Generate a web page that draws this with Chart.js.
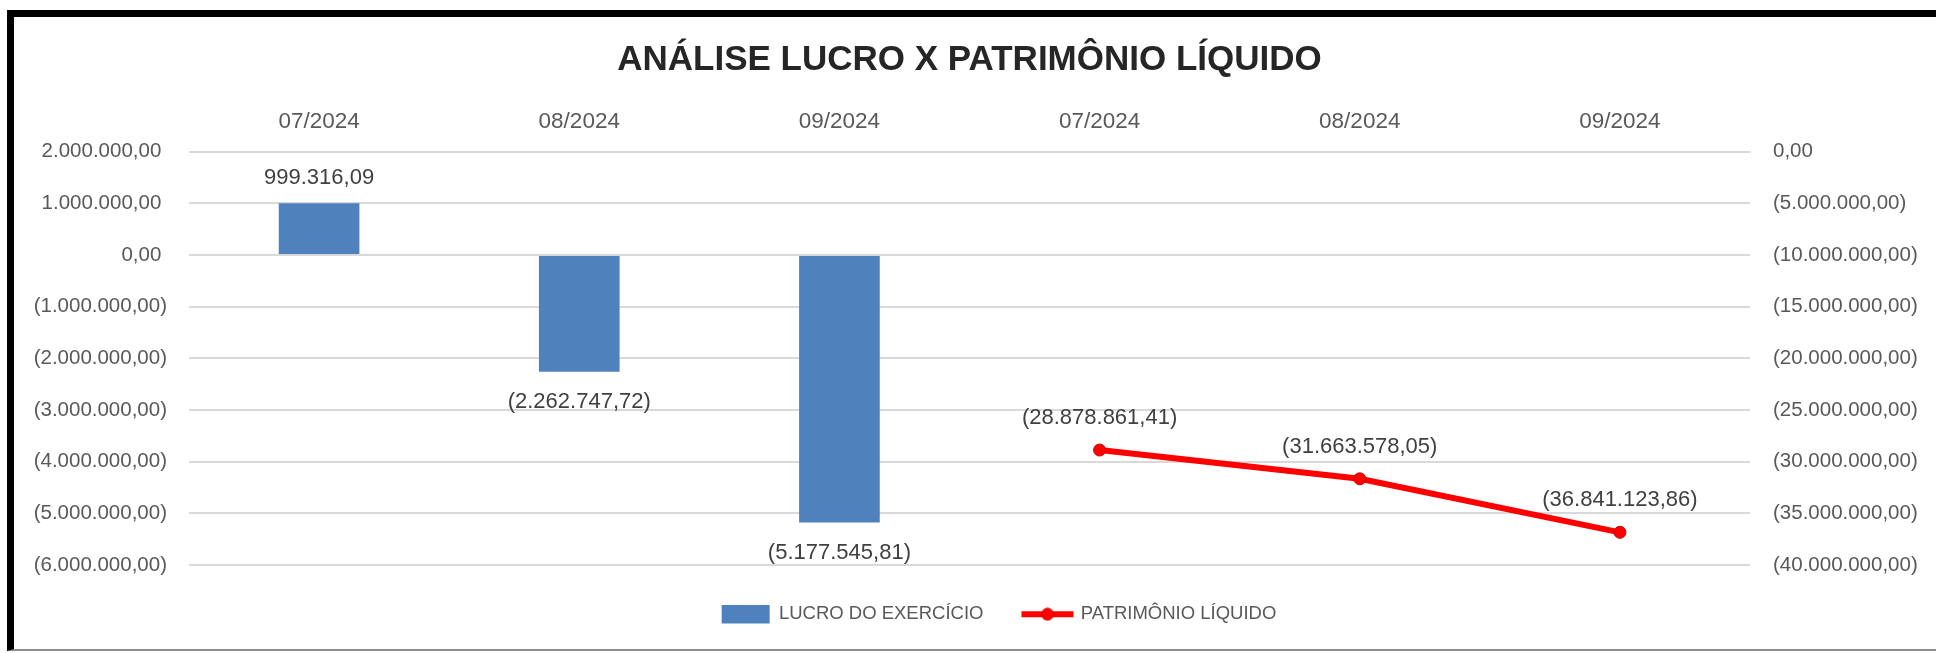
<!DOCTYPE html>
<html lang="pt-BR">
<head>
<meta charset="utf-8">
<title>Análise Lucro x Patrimônio Líquido</title>
<script src="https://cdn.jsdelivr.net/npm/chart.js@4.4.1/dist/chart.umd.min.js"></script>
<style>
    html, body { margin: 0; padding: 0; background: #ffffff; overflow: hidden; }
    #palco { position: relative; width: 1936px; height: 653px; }
    #grafico { position: absolute; left: 0; top: 0; }
    #moldura {
        position: absolute; left: 7px; top: 10px; right: -10px; height: 632px;
        border-left: 7px solid #000; border-top: 7px solid #000; border-bottom: 2px solid #8c8c8c;
        pointer-events: none;
    }
</style>
</head>
<body>
<div id="palco">
    <canvas id="grafico" width="1936" height="653"></canvas>
    <div id="moldura"></div>
</div>
<script>
// dados
const meses = ['07/2024', '08/2024', '09/2024', '07/2024', '08/2024', '09/2024'];
const lucroExercicio = [999316.09, -2262747.72, -5177545.81, null, null, null];
const patrimonioLiquido = [null, null, null, -28878861.41, -31663578.05, -36841123.86];

const FONTE = '"Liberation Sans", Arial, sans-serif';

function formatarValor(v) {
    const partes = Math.abs(v).toFixed(2).split('.');
    const inteiro = partes[0].replace(/\B(?=(\d{3})+(?!\d))/g, '.');
    const texto = inteiro + ',' + partes[1];
    return v < 0 ? '(' + texto + ')' : texto;
}

// ícone da legenda: linha com marcador
const iconeLinha = document.createElement('canvas');
iconeLinha.width = 54;
iconeLinha.height = 14;
(function () {
    const c = iconeLinha.getContext('2d');
    c.strokeStyle = '#FF0000';
    c.lineWidth = 6;
    c.beginPath();
    c.moveTo(1, 7);
    c.lineTo(53, 7);
    c.stroke();
    c.fillStyle = '#FF0000';
    c.strokeStyle = '#D00000';
    c.lineWidth = 1;
    c.beginPath();
    c.arc(27, 7, 6, 0, Math.PI * 2);
    c.fill();
    c.stroke();
})();

const rotulosPlugin = {
    id: 'rotulos',
    afterDatasetsDraw(chart) {
        const ctx = chart.ctx;
        ctx.save();
        ctx.font = '22px ' + FONTE;
        ctx.fillStyle = '#404040';
        ctx.textAlign = 'center';
        ctx.textBaseline = 'middle';
        chart.data.datasets.forEach((ds, i) => {
            const meta = chart.getDatasetMeta(i);
            meta.data.forEach((el, j) => {
                const v = ds.data[j];
                if (v === null || v === undefined) return;
                let y;
                if (ds.type === 'line') {
                    y = el.y - 32;
                } else {
                    y = v >= 0 ? el.y - 25 : el.y + 30;
                }
                ctx.fillText(formatarValor(v), el.x, y);
            });
        });
        ctx.restore();
    }
};

const ctx = document.getElementById('grafico').getContext('2d');
new Chart(ctx, {
    type: 'bar',
    data: {
        labels: meses,
        datasets: [
            {
                type: 'bar',
                label: 'LUCRO DO EXERCÍCIO',
                data: lucroExercicio,
                backgroundColor: '#4F81BD',
                borderWidth: 0,
                barPercentage: 0.31,
                categoryPercentage: 1,
                yAxisID: 'y'
            },
            {
                type: 'line',
                label: 'PATRIMÔNIO LÍQUIDO',
                data: patrimonioLiquido,
                borderColor: '#FF0000',
                backgroundColor: '#FF0000',
                borderWidth: 6,
                pointRadius: 6,
                pointBackgroundColor: '#FF0000',
                pointBorderColor: '#D00000',
                pointBorderWidth: 1,
                tension: 0,
                yAxisID: 'y1'
            }
        ]
    },
    options: {
        responsive: false,
        animation: false,
        devicePixelRatio: 1,
        events: [],
        // direita negativa para centralizar a legenda como no original
        layout: { padding: { left: 20, right: -42, top: 0, bottom: 19.5 } },
        plugins: {
            title: {
                display: true,
                fullSize: false,
                text: 'ANÁLISE LUCRO X PATRIMÔNIO LÍQUIDO',
                color: '#262626',
                font: { family: FONTE, size: 35, weight: 'bold' },
                padding: { top: 39, bottom: 10.5 }
            },
            legend: {
                position: 'bottom',
                labels: {
                    color: '#595959',
                    font: { family: FONTE, size: 18.5 },
                    padding: 40,
                    usePointStyle: true,
                    pointStyleWidth: 48,
                    boxHeight: 19,
                    generateLabels(chart) {
                        const itens = Chart.defaults.plugins.legend.labels.generateLabels(chart);
                        itens[0].pointStyle = 'rect';
                        itens[0].lineWidth = 0;
                        itens[1].pointStyle = iconeLinha;
                        return itens;
                    }
                }
            },
            tooltip: { enabled: false }
        },
        scales: {
            x: {
                position: 'top',
                grid: { display: false, drawTicks: false },
                border: { display: false },
                ticks: {
                    color: '#595959',
                    font: { family: FONTE, size: 22.5 },
                    padding: 16.5,
                    maxRotation: 0,
                    autoSkip: false
                }
            },
            y: {
                position: 'left',
                min: -6000000,
                max: 2000000,
                grid: { color: '#D9D9D9', lineWidth: 2, drawTicks: false },
                border: { display: false },
                ticks: {
                    stepSize: 1000000,
                    color: '#595959',
                    font: { family: FONTE, size: 20.5 },
                    padding: 22,
                    callback: (v) => v < 0 ? formatarValor(v) : formatarValor(v) + ' '
                },
                afterFit(scale) { scale.width = 169; }
            },
            y1: {
                position: 'right',
                min: -40000000,
                max: 0,
                grid: { drawOnChartArea: false, drawTicks: false },
                border: { display: false },
                ticks: {
                    stepSize: 5000000,
                    color: '#595959',
                    font: { family: FONTE, size: 20.5 },
                    padding: 23,
                    callback: (v) => formatarValor(v)
                },
                afterFit(scale) { scale.width = 228; }
            }
        }
    },
    plugins: [rotulosPlugin]
});
</script>
</body>
</html>
